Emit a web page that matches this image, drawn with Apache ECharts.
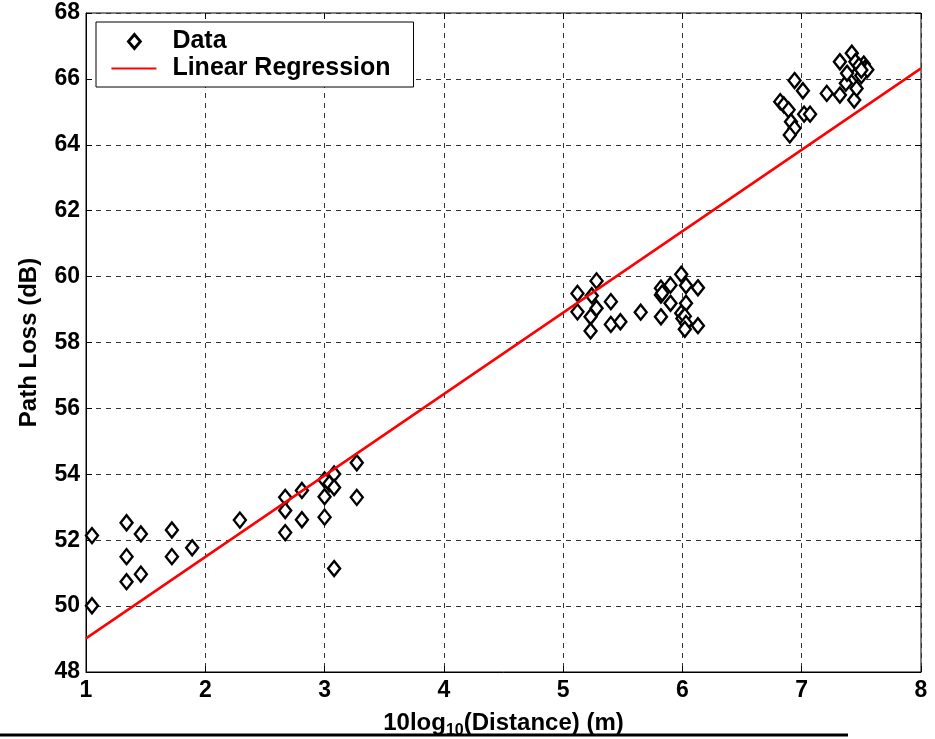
<!DOCTYPE html>
<html>
<head>
<meta charset="utf-8">
<script src="https://cdn.jsdelivr.net/npm/echarts@6/dist/echarts.min.js"></script>
<style>html,body{margin:0;padding:0;background:#fff;}#c{width:935px;height:739px;}</style>
</head>
<body>
<div id="c"></div>
<script>
const dataX = [1.05,1.05,1.34,1.34,1.34,1.46,1.46,1.72,1.72,1.89,2.29,
  2.67,2.67,2.67,2.81,2.81,3.00,3.00,3.00,3.04,3.08,3.08,3.08,3.27,3.27,
  5.12,5.12,5.24,5.28,5.28,5.23,5.23,5.40,5.40,5.48,5.65,5.82,5.82,5.83,5.90,5.90,5.82,5.99,6.03,6.13,6.03,5.99,6.00,6.02,6.03,6.02,6.13,
  6.94,7.01,6.82,6.85,6.89,6.91,6.94,6.90,7.02,7.07,7.21,7.32,7.32,7.37,7.42,7.45,7.44,7.46,7.46,7.52,7.53,7.50,7.55,7.48,7.38,7.50];
const dataY = [52.14,50.01,52.53,51.50,50.74,52.19,50.97,52.31,51.50,51.77,52.61,
  53.30,52.90,52.23,53.51,52.62,53.83,53.32,52.70,53.72,54.01,53.60,51.14,54.35,53.30,
  59.49,58.93,59.42,59.87,59.04,58.78,58.35,59.24,58.55,58.63,58.92,59.65,59.44,59.50,59.74,59.19,58.78,60.07,59.73,59.66,59.19,58.89,58.73,58.80,58.58,58.40,58.51,
  65.95,65.64,65.31,65.21,65.06,64.70,64.50,64.30,64.93,64.93,65.56,65.51,66.52,65.87,66.78,66.52,65.36,65.71,66.15,66.45,66.32,66.10,66.28,66.40,66.17,66.27];
const regX = [1, 8];
const regY = [49.02, 66.32];
const xTicks = [1,2,3,4,5,6,7,8];
const yTicks = [48,50,52,54,56,58,60,62,64,66,68];

const FONT = 'Liberation Sans, Arial, sans-serif';
const scatterData = dataX.map((x, i) => [x, dataY[i]]);
const regData = regX.map((x, i) => [x, regY[i]]);

const chart = echarts.init(document.getElementById('c'), null, {renderer: 'canvas'});
const split = {show: true, lineStyle: {color: '#333', type: [5, 5], width: 1}};
chart.setOption({
  animation: false,
  backgroundColor: '#fff',
  grid: {left: 86, right: 14, top: 13, bottom: 67, show: true, borderColor: '#000', borderWidth: 1,
    containLabel: false, outerBoundsMode: 'none'},
  legend: {
    orient: 'vertical', left: 96, top: 22,
    backgroundColor: '#fff', borderColor: '#000', borderWidth: 1,
    padding: [7, 23, 6, 14], itemGap: 2, itemWidth: 45, itemHeight: 16,
    textStyle: {fontFamily: FONT, fontWeight: 'bold', fontSize: 25, color: '#000', padding: [0, 0, 0, 11]},
    data: [
      {name: 'Data', icon: 'path://M0,0 M45,16 M23,1 L29,8 L23,15 L17,8 Z',
        itemStyle: {color: '#fff', borderColor: '#000', borderWidth: 2.8}},
      {name: 'Linear Regression', icon: 'path://M0,0 M45,16 M0,7 L45,7 L45,9 L0,9 Z',
        itemStyle: {color: '#ff0000', borderWidth: 0}}
    ]
  },
  xAxis: [{
    type: 'value', min: 1, max: 8, interval: 1,
    axisLine: {show: true, onZero: false, lineStyle: {color: '#000'}},
    axisTick: {show: true, inside: true, length: 6, lineStyle: {color: '#000'}},
    axisLabel: {fontFamily: FONT, fontWeight: 'bold', fontSize: 23, color: '#000', margin: 7,
      formatter: v => xTicks.includes(v) ? String(v) : ''},
    splitLine: split,
    name: '{n|10log}{s|10}{n|(Distance) (m)}', nameLocation: 'middle', nameGap: 36,
    nameTextStyle: {rich: {
      n: {fontFamily: FONT, fontWeight: 'bold', fontSize: 24, color: '#000'},
      s: {fontFamily: FONT, fontWeight: 'bold', fontSize: 16, color: '#000', padding: [15, 0, 0, 0]}
    }}
  }, {
    type: 'value', min: 1, max: 8, interval: 1, position: 'top',
    axisLine: {show: false}, axisLabel: {show: false}, splitLine: {show: false},
    axisTick: {show: true, inside: true, length: 6, lineStyle: {color: '#000'}}
  }],
  yAxis: [{
    type: 'value', min: 48, max: 68, interval: 2,
    axisLine: {show: true, onZero: false, lineStyle: {color: '#000'}},
    axisTick: {show: true, inside: true, length: 6, lineStyle: {color: '#000'}},
    axisLabel: {fontFamily: FONT, fontWeight: 'bold', fontSize: 23, color: '#000', margin: 6,
      formatter: v => yTicks.includes(v) ? String(v) : ''},
    splitLine: split,
    name: 'Path Loss (dB)', nameLocation: 'middle', nameGap: 45,
    nameTextStyle: {fontFamily: FONT, fontWeight: 'bold', fontSize: 24, color: '#000'}
  }, {
    type: 'value', min: 48, max: 68, interval: 2, position: 'right',
    axisLine: {show: false}, axisLabel: {show: false}, splitLine: {show: false},
    axisTick: {show: true, inside: true, length: 6, lineStyle: {color: '#000'}}
  }],
  series: [{
    name: 'Data', type: 'scatter', data: scatterData,
    symbol: 'diamond', symbolSize: [12, 15],
    itemStyle: {color: '#fff', borderColor: '#000', borderWidth: 2.4, opacity: 1},
    z: 3
  }, {
    name: 'Linear Regression', type: 'line', data: regData,
    symbol: 'none', lineStyle: {color: '#ff0000', width: 2.5},
    itemStyle: {color: '#ff0000'}, z: 4
  }],
  graphic: [{
    type: 'line', shape: {x1: 0, y1: 735, x2: 848, y2: 735},
    style: {stroke: '#000', lineWidth: 3}, z: 100
  }]
});
</script>
</body>
</html>
